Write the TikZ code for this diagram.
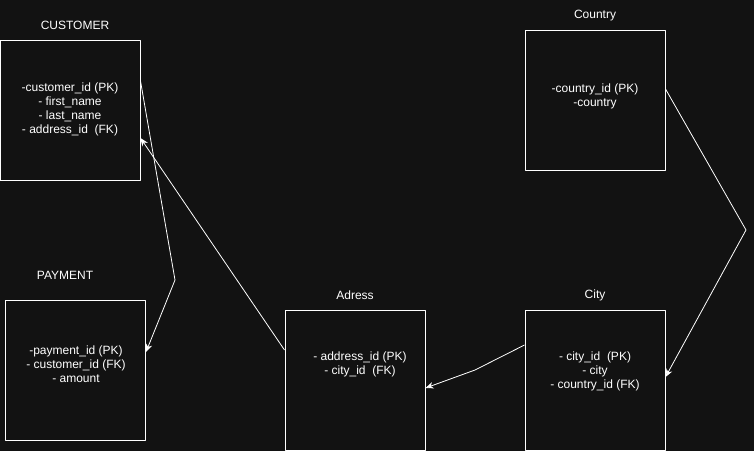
\documentclass[tikz,border=0pt]{standalone}
\usepackage{fontspec}
\setmainfont{Liberation Sans}
\usetikzlibrary{arrows.meta}
\definecolor{bg}{HTML}{121212}
\begin{document}
\begin{tikzpicture}[x=1pt,y=-1pt,
  tbox/.style={draw=white,line width=1pt,fill=bg,minimum width=140pt,minimum height=140pt,inner sep=0pt},
  ttext/.style={text=white,align=center,inner sep=0pt,font=\fontsize{12}{14}\selectfont},
  edge/.style={draw=white,line width=0.8pt,-{Stealth[length=8pt,width=6.5pt,inset=2.5pt]}},
  line join=round]
\fill[bg] (0,0) rectangle (754,451);
\useasboundingbox (0,0) rectangle (754,451);

% boxes
\node[tbox] (cust) at (70,110) {};
\node[tbox] (pay) at (75.5,370) {};
\node[tbox] (adr) at (355,380) {};
\node[tbox] (city) at (595,380) {};
\node[tbox] (ctry) at (595,100) {};

% titles
\node[ttext] (custt) at (75,25) {CUSTOMER};
\node[ttext] (payt) at (65,275.5) {PAYMENT};
\node[ttext] (adrt) at (355,295.5) {Adress};
\node[ttext] (cityt) at (595,295.5) {City};
\node[ttext] (ctryt) at (595,15.5) {Country};

% contents
\node[ttext] (custx) at (70,109) {-customer\_id (PK)\\- first\_name\\- last\_name\\- address\_id\ \ (FK)};
\node[ttext] (payx) at (76,364) {-payment\_id (PK)\\- customer\_id (FK)\\- amount};
\node[ttext] (adrx) at (360,364) {- address\_id (PK)\\- city\_id\ \ (FK)};
\node[ttext] (cityx) at (595,371) {- city\_id\ \ (PK)\\- city\\- country\_id (FK)};
\node[ttext] (ctryx) at (595,96) {-country\_id (PK)\\-country};

% bend points
\coordinate (c1) at (175,280);
\coordinate (c2) at (475,370);
\coordinate (c3) at (746,230);

% connectors
\draw[edge] ([yshift=29pt]cust.east) -- (c1) -- ([yshift=18pt]pay.east);
\draw[edge] ([yshift=30pt]adr.west) -- ([yshift=-28pt]cust.east);
\draw[edge] ([yshift=35pt]city.west) -- (c2) -- ([yshift=-8pt]adr.east);
\draw[edge] ([yshift=11pt]ctry.east) -- (c3) -- ([yshift=3pt]city.east);
\end{tikzpicture}
\end{document}
